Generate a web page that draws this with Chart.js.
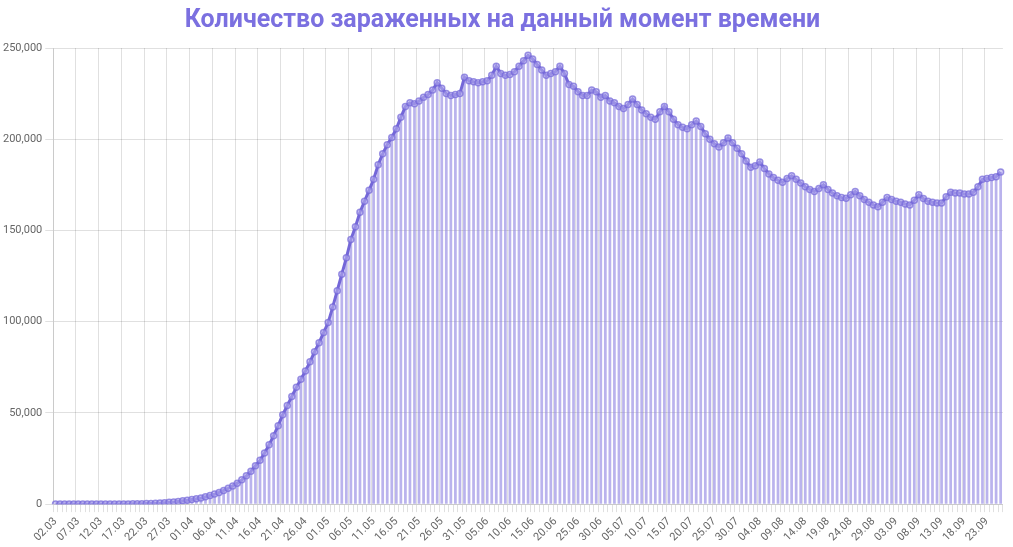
<!DOCTYPE html>
<html>
<head>
<meta charset="utf-8">
<script src="https://cdn.jsdelivr.net/npm/chart.js@4"></script>
<style>
  html, body { margin: 0; padding: 0; background: #fff; }
  #wrap { width: 1013px; height: 547px; position: relative; }
</style>
</head>
<body>
<div id="wrap"><canvas id="chart"></canvas></div>
<script>
const startDate = new Date(2020, 2, 2);

const marchValues = [3, 3, 3, 4, 4, 5, 10, 10, 10, 13, 20, 25, 30, 45, 60, 90, 115, 140, 190, 250,
  300, 360, 480, 600, 780, 1000, 1200, 1500, 1800, 2100];
const aprilValues = [2500, 2900, 3400, 4000, 4700, 5500, 6400, 7500, 8700, 10000, 11500, 13300, 15500, 18000, 21000,
  24000, 28000, 32500, 37500, 43000, 49000, 54000, 59000, 64000, 68500, 73000, 78000, 83500, 88500, 94000];
const mayValues = [99500, 108000, 117000, 126000, 135000, 145000, 152000, 160000, 166000, 172000, 178000,
  186000, 192000, 197000, 201000, 205700, 212000, 218000, 220000, 219500, 221000, 223000, 224500, 227000,
  231000, 228000, 225000, 224000, 224500, 225000, 234000];
const juneValues = [232000, 231500, 231000, 231500, 232000, 235000, 240000, 236000, 235000, 235500, 237000,
  240000, 243000, 246000, 244000, 241000, 238000, 235000, 236000, 237000, 240000, 236000, 230000, 229000,
  226000, 224000, 224000, 227000, 226000, 223000];
const julyValues = [224000, 221000, 220000, 218000, 216800, 219000, 222000, 219000, 216000, 214000, 212000,
  211000, 215000, 218000, 215000, 211000, 208000, 206500, 205700, 208000, 210000, 207000, 203000, 200000,
  197500, 195800, 198000, 200700, 198000, 195000, 192000];
const augustValues = [188000, 184700, 185500, 187500, 184000, 181000, 179000, 177500, 176400, 178500, 180000,
  178000, 176000, 174000, 172500, 171400, 173000, 175000, 172500, 170500, 169000, 168000, 167600, 169500,
  171400, 169000, 167000, 165500, 164000, 163000, 165500];
const septemberValues = [168000, 167000, 166000, 165500, 164500, 164000, 166500, 169500, 167500, 166000,
  165500, 165000, 165000, 168500, 171000, 170500, 170500, 170000, 170000, 171000, 174000, 178000, 178500,
  179000, 179500, 182000];

const activeCases = [].concat(marchValues, aprilValues, mayValues, juneValues, julyValues, augustValues, septemberValues);

const dateLabels = activeCases.map((_, i) => {
  const d = new Date(startDate);
  d.setDate(d.getDate() + i);
  return String(d.getDate()).padStart(2, '0') + '.' + String(d.getMonth() + 1).padStart(2, '0');
});

const yTicks = [0, 50000, 100000, 150000, 200000, 250000];

new Chart(document.getElementById('chart'), {
  data: {
    labels: dateLabels,
    datasets: [
      {
        type: 'line',
        data: activeCases,
        borderColor: '#7467d8',
        borderWidth: 3,
        pointRadius: 3,
        pointBorderWidth: 1.5,
        pointBackgroundColor: 'rgba(180,172,238,0.6)',
        pointBorderColor: 'rgba(116,103,216,0.7)',
        tension: 0,
        order: 0
      },
      {
        type: 'bar',
        data: activeCases,
        backgroundColor: 'rgba(140,128,225,0.6)',
        borderWidth: 0,
        barPercentage: 0.6,
        categoryPercentage: 1,
        order: 1
      }
    ]
  },
  options: {
    responsive: true,
    maintainAspectRatio: false,
    animation: false,
    layout: { padding: { left: 0, right: 8, top: 0, bottom: 0 } },
    plugins: {
      legend: { display: false },
      tooltip: { enabled: false },
      title: {
        display: true,
        text: 'Количество зараженных на данный момент времени',
        color: '#7b70e0',
        font: { family: 'Roboto', size: 25, weight: 'bold' },
        padding: { top: 6, bottom: 12 }
      }
    },
    scales: {
      x: {
        grid: {
          color: ctx => (ctx.index % 5 === 0 ? 'rgba(0,0,0,0.12)' : 'rgba(0,0,0,0)'),
          tickColor: 'rgba(0,0,0,0.12)'
        },
        ticks: {
          autoSkip: false,
          maxRotation: 45,
          minRotation: 45,
          color: '#666',
          font: { family: 'Roboto', size: 11 },
          callback: (v, i) => (i % 5 === 0 ? dateLabels[i] : '')
        }
      },
      y: {
        min: 0,
        max: 250000,
        afterBuildTicks: axis => { axis.ticks = yTicks.map(v => ({ value: v })); },
        grid: { color: 'rgba(0,0,0,0.12)' },
        ticks: {
          color: '#666',
          font: { family: 'Roboto', size: 11 }
        }
      }
    }
  }
});
</script>
</body>
</html>
